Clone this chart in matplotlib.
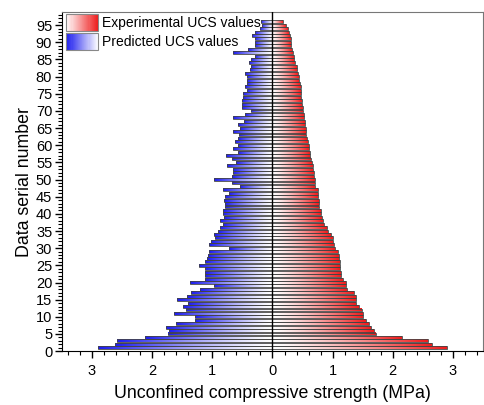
import numpy as np
import matplotlib
matplotlib.use('Agg')
import matplotlib.pyplot as plt
from matplotlib.colors import LinearSegmentedColormap
from matplotlib.patches import Rectangle
from matplotlib.legend_handler import HandlerBase
from matplotlib.ticker import MultipleLocator, FuncFormatter

plt.rcParams['font.family'] = ['Liberation Sans', 'DejaVu Sans']

# data serial numbers 1..96
serial = np.arange(1, 97)

# experimental UCS values (MPa), serial 1..96
experimental = [2.90, 2.65, 2.58, 2.15, 1.72, 1.68, 1.63, 1.61, 1.56, 1.50,
                1.50, 1.48, 1.43, 1.39, 1.38, 1.38, 1.35, 1.24, 1.23, 1.23,
                1.17, 1.14, 1.14, 1.13, 1.12, 1.12, 1.10, 1.10, 1.09, 1.04,
                1.02, 1.01, 1.01, 0.97, 0.92, 0.90, 0.86, 0.84, 0.82, 0.81,
                0.80, 0.78, 0.78, 0.77, 0.76, 0.75, 0.75, 0.71, 0.70, 0.70,
                0.69, 0.69, 0.67, 0.67, 0.65, 0.64, 0.62, 0.62, 0.61, 0.60,
                0.59, 0.58, 0.56, 0.56, 0.55, 0.54, 0.54, 0.53, 0.53, 0.51,
                0.50, 0.49, 0.49, 0.48, 0.48, 0.47, 0.47, 0.45, 0.44, 0.44,
                0.43, 0.41, 0.40, 0.37, 0.36, 0.35, 0.34, 0.33, 0.31, 0.31,
                0.30, 0.29, 0.27, 0.25, 0.22, 0.18]

# predicted UCS values (MPa), serial 1..96
predicted = [2.90, 2.61, 2.59, 2.12, 1.73, 1.72, 1.77, 1.61, 1.29, 1.29,
             1.63, 1.44, 1.48, 1.40, 1.59, 1.42, 1.36, 1.20, 0.98, 1.37,
             1.12, 1.12, 1.13, 1.13, 1.23, 1.13, 1.09, 1.08, 1.06, 0.73,
             1.06, 1.03, 0.96, 0.97, 0.90, 0.87, 0.82, 0.87, 0.80, 0.83,
             0.82, 0.79, 0.79, 0.80, 0.79, 0.73, 0.82, 0.54, 0.68, 0.98,
             0.68, 0.66, 0.65, 0.76, 0.61, 0.68, 0.78, 0.58, 0.65, 0.58,
             0.62, 0.58, 0.56, 0.65, 0.54, 0.58, 0.47, 0.65, 0.46, 0.36,
             0.51, 0.50, 0.50, 0.49, 0.49, 0.43, 0.46, 0.43, 0.43, 0.43,
             0.46, 0.38, 0.36, 0.39, 0.35, 0.29, 0.65, 0.41, 0.29, 0.29,
             0.29, 0.34, 0.29, 0.21, 0.18, 0.19]

RED = '#ee1c1c'
BLUE = '#1c1cee'
red_cmap = LinearSegmentedColormap.from_list('wr', ['#ffffff', RED])
blue_cmap = LinearSegmentedColormap.from_list('wb', ['#ffffff', BLUE])
# a bit of white kept near the zero line, like the original gradient fill
grad = (np.linspace(0, 1, 256) ** 1.3).reshape(1, -1)

BAR_H = 0.85


class GradientHandler(HandlerBase):
    def __init__(self, cmap, reverse=False):
        super().__init__()
        self.cmap = cmap
        self.reverse = reverse

    def create_artists(self, legend, orig_handle, xdescent, ydescent,
                       width, height, fontsize, trans):
        n = 30
        arts = []
        for i in range(n):
            v = (i + 0.5) / n
            if self.reverse:
                v = 1 - v
            r = Rectangle((xdescent + i * width / n, -ydescent - 2), width / n + 0.3,
                          height + 4, facecolor=self.cmap(v), edgecolor='none',
                          transform=trans)
            arts.append(r)
        frame = Rectangle((xdescent, -ydescent - 2), width, height + 4,
                          facecolor='none', edgecolor='#888888', lw=0.8,
                          transform=trans)
        arts.append(frame)
        return arts


fig = plt.figure(figsize=(4.84, 4.05), dpi=100)
ax = fig.add_axes([0.128, 0.133, 0.870, 0.837])

for k, e, p in zip(serial, experimental, predicted):
    ax.imshow(grad, cmap=red_cmap, vmin=0, vmax=1, aspect='auto',
              interpolation='bilinear',
              extent=[0, e, k - BAR_H / 2, k + BAR_H / 2], zorder=2)
    ax.imshow(grad[:, ::-1], cmap=blue_cmap, vmin=0, vmax=1, aspect='auto',
              interpolation='bilinear',
              extent=[-p, 0, k - BAR_H / 2, k + BAR_H / 2], zorder=2)

ax.barh(serial, experimental, height=BAR_H, facecolor='none',
        edgecolor='#444444', linewidth=0.6, zorder=3)
ax.barh(serial, [-v for v in predicted], height=BAR_H, facecolor='none',
        edgecolor='#444444', linewidth=0.6, zorder=3)

ax.axvline(0, color='black', linewidth=1.0, zorder=4)

ax.set_xlim(-3.5, 3.5)
ax.set_ylim(0, 98.8)

ax.xaxis.set_major_locator(MultipleLocator(1))
ax.xaxis.set_minor_locator(MultipleLocator(0.2))
ax.xaxis.set_major_formatter(FuncFormatter(lambda v, pos: '%d' % abs(round(v))))
ax.yaxis.set_major_locator(MultipleLocator(5))
ax.yaxis.set_minor_locator(MultipleLocator(1))

ax.tick_params(axis='both', which='major', direction='out', length=5, width=1,
               labelsize=10.5, pad=2)
ax.tick_params(axis='both', which='minor', direction='out', length=3, width=0.8)
ax.tick_params(axis='x', which='major', pad=4)
ax.tick_params(top=False, right=False)

ax.spines['top'].set_color('#777777')
ax.spines['right'].set_color('#777777')

ax.set_xlabel('Unconfined compressive strength (MPa)', fontsize=12.8, labelpad=5)
ax.set_ylabel('Data serial number', fontsize=12.8, labelpad=2)

h_exp = Rectangle((0, 0), 1, 1)
h_pred = Rectangle((0, 0), 1, 1)
ax.legend([h_exp, h_pred], ['Experimental UCS values', 'Predicted UCS values'],
          handler_map={h_exp: GradientHandler(red_cmap),
                       h_pred: GradientHandler(blue_cmap, reverse=True)},
          loc='upper left', frameon=False, fontsize=10,
          handlelength=2.3, handleheight=0.9, handletextpad=0.3,
          labelspacing=0.35, borderaxespad=0.2, borderpad=0.1)

fig.savefig('out.png', dpi=100)
